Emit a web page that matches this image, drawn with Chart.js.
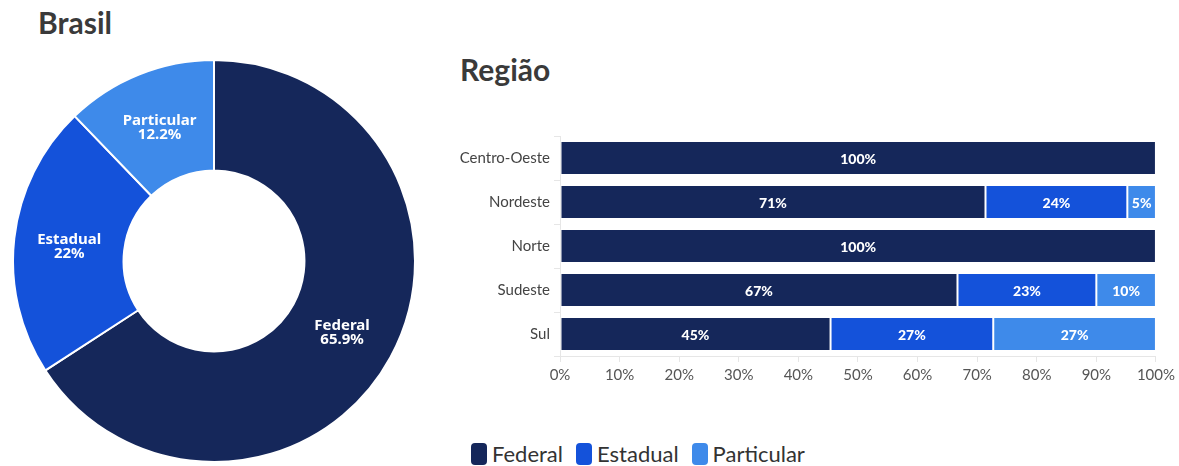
<!DOCTYPE html>
<html>
<head>
<meta charset="utf-8">
<script src="https://cdn.jsdelivr.net/npm/chart.js@4.4.1/dist/chart.umd.min.js"></script>
<style>
  html, body { margin: 0; padding: 0; background: #fff; }
  body { width: 1179px; height: 466px; position: relative; overflow: hidden; font-family: Lato, sans-serif; }
  .title { position: absolute; font-weight: 700; color: #3a3a3a; font-size: 30px; line-height: 1; }
  #pieBox { position: absolute; left: 12px; top: 59px; width: 404px; height: 404px; }
  #barBox { position: absolute; left: 440px; top: 123px; width: 739px; height: 272px; }
  #legend { position: absolute; left: 471px; top: 440px; display: flex; font-size: 22px; color: #333; }
  #legend span.item { display: flex; align-items: center; margin-right: 13px; }
  #legend span.box { width: 16px; height: 22px; border-radius: 4px; margin-right: 5px; display: inline-block; }
</style>
</head>
<body>
<div class="title" style="left:38px; top:7px;">Brasil</div>
<div class="title" style="left:460px; top:54px;">Região</div>
<div id="pieBox"><canvas id="pie"></canvas></div>
<div id="barBox"><canvas id="bar"></canvas></div>
<div id="legend"></div>
<script>
// Daten
const seriesNames = ['Federal', 'Estadual', 'Particular'];
const seriesColors = ['#15275a', '#1452da', '#3e8aea'];
const brasilValues = [65.9, 22, 12.2];

const regions = ['Centro-Oeste', 'Nordeste', 'Norte', 'Sudeste', 'Sul'];
const federal = [100, 71.4, 100, 66.7, 45.4];
const estadual = [0, 23.8, 0, 23.3, 27.3];
const particular = [0, 4.8, 0, 10.0, 27.3];
const xTickValues = [0, 10, 20, 30, 40, 50, 60, 70, 80, 90, 100];

// Legende (HTML)
const legendEl = document.getElementById('legend');
seriesNames.forEach((name, i) => {
    const item = document.createElement('span');
    item.className = 'item';
    item.innerHTML = `<span class="box" style="background:${seriesColors[i]}"></span>${name}`;
    legendEl.appendChild(item);
});

// Beschriftung in den Donut-Segmenten
const pieLabels = {
    id: 'pieLabels',
    afterDatasetsDraw(chart) {
        const ctx = chart.ctx;
        const meta = chart.getDatasetMeta(0);
        ctx.save();
        ctx.fillStyle = '#fff';
        ctx.font = 'bold 15px "Noto Sans", sans-serif';
        ctx.textAlign = 'center';
        ctx.textBaseline = 'middle';
        meta.data.forEach((arc, i) => {
            const pos = arc.tooltipPosition();
            ctx.fillText(chart.data.labels[i], pos.x, pos.y - 5);
            ctx.fillText(chart.data.datasets[0].data[i] + '%', pos.x, pos.y + 9);
        });
        ctx.restore();
    }
};

// Beschriftung in den Balken
const barLabels = {
    id: 'barLabels',
    afterDatasetsDraw(chart) {
        const ctx = chart.ctx;
        ctx.save();
        ctx.fillStyle = '#fff';
        ctx.font = '900 14px Lato, sans-serif';
        ctx.textAlign = 'center';
        ctx.textBaseline = 'middle';
        chart.data.datasets.forEach((ds, di) => {
            chart.getDatasetMeta(di).data.forEach((el, i) => {
                const v = ds.data[i];
                if (!v) return;
                ctx.fillText(Math.round(v) + '%', (el.x + el.base) / 2, el.y + 1);
            });
        });
        ctx.restore();
    }
};

new Chart(document.getElementById('pie'), {
    type: 'doughnut',
    data: {
        labels: seriesNames,
        datasets: [{
            data: brasilValues,
            backgroundColor: seriesColors,
            borderColor: '#fff',
            borderWidth: 2
        }]
    },
    options: {
        responsive: true,
        maintainAspectRatio: false,
        animation: false,
        cutout: '45%',
        plugins: { legend: { display: false }, tooltip: { enabled: false } }
    },
    plugins: [pieLabels]
});

const gridColor = '#e6e6e6';
new Chart(document.getElementById('bar'), {
    type: 'bar',
    data: {
        labels: regions,
        datasets: [
            { label: seriesNames[0], data: federal, backgroundColor: seriesColors[0] },
            { label: seriesNames[1], data: estadual, backgroundColor: seriesColors[1] },
            { label: seriesNames[2], data: particular, backgroundColor: seriesColors[2] }
        ].map(ds => Object.assign(ds, {
            borderColor: '#fff',
            borderWidth: 1,
            borderSkipped: false,
            categoryPercentage: 1,
            barPercentage: 0.77
        }))
    },
    options: {
        indexAxis: 'y',
        responsive: true,
        maintainAspectRatio: false,
        animation: false,
        layout: { padding: { top: 10, right: 22, bottom: 7 } },
        plugins: { legend: { display: false }, tooltip: { enabled: false } },
        scales: {
            x: {
                stacked: true,
                min: 0,
                max: 100,
                afterBuildTicks: axis => { axis.ticks = xTickValues.map(v => ({ value: v })); },
                ticks: {
                    color: '#555',
                    font: { size: 15, family: 'Lato' },
                    padding: 4,
                    maxRotation: 0,
                    callback: v => v + '%'
                },
                grid: { drawOnChartArea: false, color: gridColor, tickLength: 6 },
                border: { color: gridColor }
            },
            y: {
                stacked: true,
                afterFit: axis => { axis.width = 120; },
                ticks: { color: '#444', font: { size: 15, family: 'Lato' }, padding: 4 },
                grid: { drawOnChartArea: false, color: gridColor, tickLength: 6 },
                border: { color: gridColor }
            }
        }
    },
    plugins: [barLabels]
});
</script>
</body>
</html>
